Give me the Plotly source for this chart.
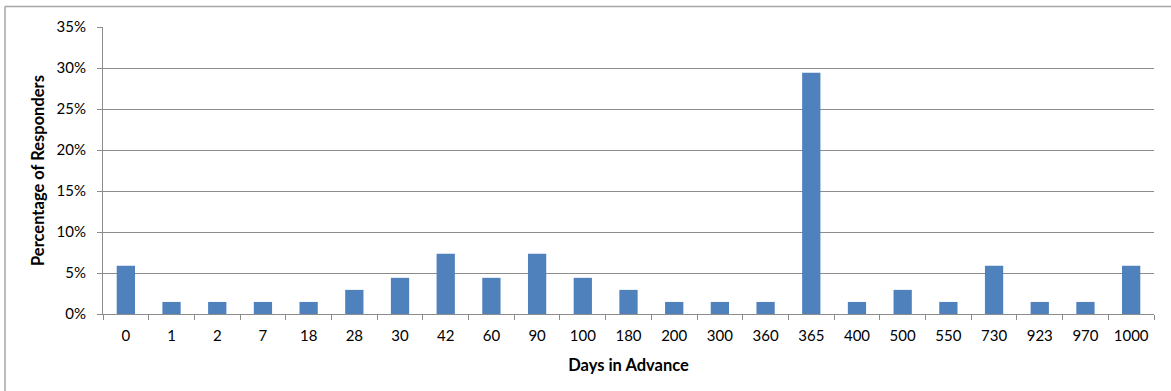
import plotly.graph_objects as go

# Survey: how many days in advance responders plan
days = ["0", "1", "2", "7", "18", "28", "30", "42", "60", "90", "100", "180",
        "200", "300", "360", "365", "400", "500", "550", "730", "923", "970", "1000"]
counts = [4, 1, 1, 1, 1, 2, 3, 5, 3, 5, 3, 2, 1, 1, 1, 20, 1, 2, 1, 4, 1, 1, 4]
total = sum(counts)
share = [c / total for c in counts]

W, H = 1171, 391
L, R, T, B = 103, 1154, 27, 314
FONT = "Lato, 'Open Sans', sans-serif"
GRID = "#8c8c8c"

fig = go.Figure(go.Bar(
    x=days, y=share,
    marker=dict(color="#4f81bd", line=dict(width=0)),
))

pw, ph = R - L, B - T
def px_x(p):
    return (p - L) / pw
def px_y(p):
    return (B - p) / ph

fig.update_layout(
    width=W, height=H,
    margin=dict(l=L, r=W - R, t=T, b=H - B, pad=0),
    paper_bgcolor="white", plot_bgcolor="white",
    font=dict(family=FONT, size=15, color="#000"),
    showlegend=False,
    bargap=0.6,
    xaxis=dict(
        type="category",
        showgrid=False,
        showline=True, linecolor=GRID, linewidth=1,
        ticks="outside", ticklen=5, tickcolor=GRID, tickwidth=1,
        tickson="boundaries",
        ticklabelstandoff=8,
        tickfont=dict(size=15),
        title=dict(text="<b>Days in Advance</b>", font=dict(size=16.5), standoff=16),
    ),
    yaxis=dict(
        range=[0, 0.35], dtick=0.05, tickformat=".0%",
        showgrid=True, gridcolor=GRID, gridwidth=1,
        zeroline=False,
        showline=True, linecolor=GRID, linewidth=1,
        ticks="outside", ticklen=5, tickcolor=GRID, tickwidth=1,
        ticklabelstandoff=8,
        tickfont=dict(size=15),
        title=dict(text="<b>Percentage of Responders</b>", font=dict(size=16.5), standoff=7),
    ),
    shapes=[
        dict(type="line", xref="paper", yref="paper",
             x0=px_x(5), x1=px_x(1200), y0=px_y(6.5), y1=px_y(6.5),
             line=dict(color="#a6a6a6", width=1.5)),
        dict(type="line", xref="paper", yref="paper",
             x0=px_x(5), x1=px_x(5), y0=px_y(6.5), y1=px_y(420),
             line=dict(color="#a6a6a6", width=1.5)),
    ],
)

fig.write_html("out.html")
